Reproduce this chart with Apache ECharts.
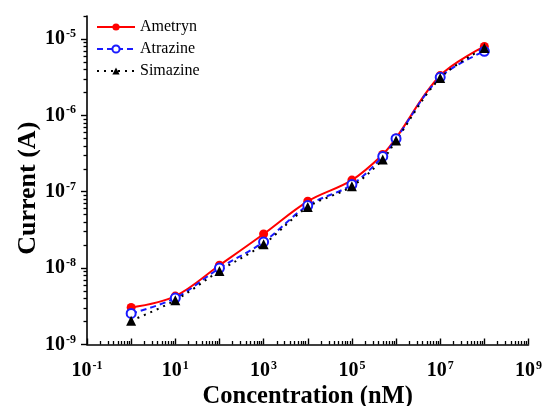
<!DOCTYPE html>
<html>
<head>
<meta charset="utf-8">
<script src="https://cdn.jsdelivr.net/npm/echarts@6/dist/echarts.min.js"></script>
<style>
  html, body { margin: 0; padding: 0; background: #fff; }
  #chart { width: 542px; height: 406px; }
</style>
</head>
<body>
<div id="chart"></div>
<script>
// Concentration (nM) of each standard
const concentration = [1, 10, 100, 1e3, 1e4, 1e5, 5e5, 1e6, 1e7, 1e8];
// Measured current (A) per herbicide
const ametryn  = [3.05e-9, 4.3e-9, 1.09e-8, 2.8e-8, 7.5e-8, 1.42e-7, 3.07e-7, 5.06e-7, 3.32e-6, 8.0e-6];
const atrazine = [2.55e-9, 4.05e-9, 1.0e-8, 2.2e-8, 6.6e-8, 1.24e-7, 2.9e-7, 4.95e-7, 3.15e-6, 6.9e-6];
const simazine = [2.05e-9, 3.8e-9, 9.2e-9, 2.06e-8, 6.3e-8, 1.18e-7, 2.65e-7, 4.7e-7, 3.08e-6, 7.6e-6];

// Axis decades
const xDecades = [-1, 0, 1, 2, 3, 4, 5, 6, 7, 8, 9];
const xLabelDecades = [-1, 1, 3, 5, 7, 9];
const yDecades = [-9, -8, -7, -6, -5];
const yMin = 1e-9, yMax = 2e-5;
const xMin = 1e-1, xMax = 1e9;

const pow10 = e => Number('1e' + e);
const minorValues = (decades, lo, hi) => {
  const out = [];
  decades.forEach(e => {
    for (let k = 2; k <= 9; k++) {
      const v = Number(k + 'e' + e);
      if (v >= lo && v <= hi) out.push(v);
    }
  });
  return out;
};

const FONT = "'Liberation Serif', 'Times New Roman', serif";
const labelFmt = v => '{b|10}{s|' + Math.round(Math.log10(v)) + '}';
const labelRich = {
  b: { fontFamily: FONT, fontWeight: 'bold', fontSize: 20, color: '#000' },
  s: { fontFamily: FONT, fontWeight: 'bold', fontSize: 12, color: '#000', padding: [0, 0, 10, 1] }
};

const toPairs = ys => concentration.map((x, i) => [x, ys[i]]);

const gridBox = { left: 87, right: 13.5, top: 16, bottom: 61.5, outerBoundsMode: 'none', containLabel: false };

const chart = echarts.init(document.getElementById('chart'), null, { renderer: 'canvas' });
chart.setOption({
  backgroundColor: '#fff',
  animation: false,
  grid: [Object.assign({}, gridBox), Object.assign({}, gridBox)],
  legend: {
    orient: 'vertical',
    left: 91,
    top: 14,
    itemWidth: 38,
    itemHeight: 9,
    itemGap: 6,
    textStyle: { fontFamily: FONT, fontSize: 16, color: '#000' },
    data: ['Ametryn', 'Atrazine', 'Simazine']
  },
  xAxis: [
    {
      type: 'log', gridIndex: 0, min: xMin, max: xMax,
      name: 'Concentration (nM)', nameLocation: 'middle', nameGap: 40, nameMoveOverlap: false,
      nameTextStyle: { fontFamily: FONT, fontWeight: 'bold', fontSize: 24.5, color: '#000' },
      axisLine: { lineStyle: { color: '#000', width: 1.6 } },
      axisTick: { inside: true, length: 6, lineStyle: { color: '#000', width: 1.4 },
                  customValues: xDecades.map(pow10) },
      axisLabel: { margin: 15, formatter: labelFmt, rich: labelRich,
                   customValues: xLabelDecades.map(pow10) },
      splitLine: { show: false }
    },
    {
      type: 'log', gridIndex: 1, min: xMin, max: xMax, position: 'bottom',
      axisLine: { show: false },
      axisTick: { show: true, inside: true, length: 3.5, lineStyle: { color: '#000', width: 1.3 },
                  customValues: minorValues(xDecades, xMin, xMax) },
      axisLabel: { show: false },
      splitLine: { show: false }
    }
  ],
  yAxis: [
    {
      type: 'log', gridIndex: 0, min: yMin, max: yMax,
      name: 'Current (A)', nameLocation: 'middle', nameGap: 46, nameMoveOverlap: false,
      nameTextStyle: { fontFamily: FONT, fontWeight: 'bold', fontSize: 26, color: '#000',
                       padding: [0, 16, 0, 0] },
      axisLine: { lineStyle: { color: '#000', width: 1.6 } },
      axisTick: { inside: false, length: 6, lineStyle: { color: '#000', width: 1.4 },
                  customValues: yDecades.map(pow10) },
      axisLabel: { margin: 11, formatter: labelFmt, rich: labelRich,
                   customValues: yDecades.map(pow10) },
      splitLine: { show: false }
    },
    {
      type: 'log', gridIndex: 1, min: yMin, max: yMax, position: 'left',
      axisLine: { show: false },
      axisTick: { show: true, inside: false, length: 3.5, lineStyle: { color: '#000', width: 1.3 },
                  customValues: minorValues(yDecades, yMin, yMax) },
      axisLabel: { show: false },
      splitLine: { show: false }
    }
  ],
  series: [
    {
      name: 'Ametryn', type: 'line', xAxisIndex: 0, yAxisIndex: 0,
      data: toPairs(ametryn), smooth: 0.35,
      symbol: 'circle', symbolSize: 9,
      itemStyle: { color: '#ff0000' },
      lineStyle: { color: '#ff0000', width: 2 }
    },
    {
      name: 'Atrazine', type: 'line', xAxisIndex: 0, yAxisIndex: 0,
      data: toPairs(atrazine), smooth: 0.35,
      symbol: 'emptyCircle', symbolSize: 9,
      itemStyle: { color: '#1a1aff', borderWidth: 1.5 },
      lineStyle: { color: '#1a1aff', width: 2, type: [6, 4] }
    },
    {
      name: 'Simazine', type: 'line', xAxisIndex: 0, yAxisIndex: 0,
      data: toPairs(simazine), smooth: 0.35,
      symbol: 'triangle', symbolSize: 10,
      itemStyle: { color: '#000' },
      lineStyle: { color: '#000', width: 2, type: [2, 5] }
    }
  ]
});
</script>
</body>
</html>
